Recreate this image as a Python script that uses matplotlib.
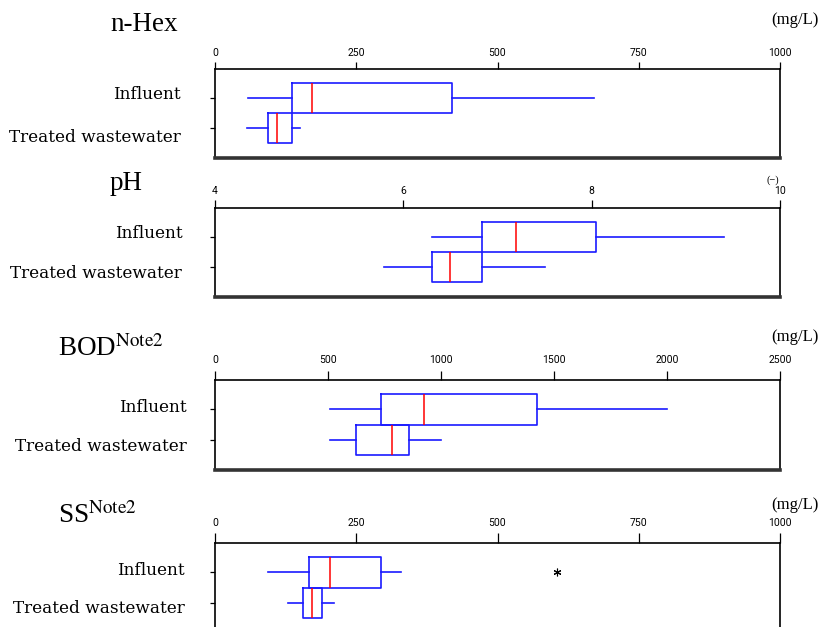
import matplotlib.pyplot as plt
from matplotlib.transforms import ScaledTranslation

plt.rcParams['font.family'] = ['Liberation Serif', 'DejaVu Serif']
plt.rcParams['mathtext.fontset'] = 'stix'

groups = ['Influent', 'Treated wastewater']

# whisker low, Q1, median, Q3, whisker high
hex_inf = [58, 137, 171, 419, 670]
hex_trt = [56, 93, 109, 137, 151]
ph_inf = [6.30, 6.84, 7.20, 8.05, 9.41]
ph_trt = [5.80, 6.30, 6.50, 6.84, 7.50]
bod_inf = [508, 733, 924, 1424, 2001]
bod_trt = [508, 626, 781, 860, 1001]
ss_inf = [94, 166, 203, 293, 330]
ss_trt = [129, 155, 171, 190, 210]
ss_inf_out = [606]

titles = ['n-Hex', 'pH', r'BOD$^{\rm Note2}$', r'SS$^{\rm Note2}$']
units = ['(mg/L)', '(−)', '(mg/L)', '(mg/L)']
xlims = [(0, 1000), (4, 10), (0, 2500), (0, 1000)]
xticks = [[0, 250, 500, 750, 1000], [4, 6, 8, 10],
          [0, 500, 1000, 1500, 2000, 2500], [0, 250, 500, 750, 1000]]
stats = [(hex_inf, hex_trt, []), (ph_inf, ph_trt, []),
         (bod_inf, bod_trt, []), (ss_inf, ss_trt, ss_inf_out)]

W, H = 820, 627
# layout, pixels unless noted
tops = [69, 208, 380, 543]
heights = [89, 89, 90, 90]
xtick_len = [5, 5.8, 6.5, 7.2]        # points
xtick_pad = [3.0, 2.5, 4.5, 3.5]      # points
ylab_pad = [21, 20, 16.5, 18]         # points
ylab_shift = [(6, -7), (6, -4), (4, -5), (4, -4)]
title_x = [110, 110, 58, 58]
title_base = [31, 190, 356, 523]
unit_x = [819, 779, 819, 819]
unit_y = [20, 180, 337, 505]
unit_size = [12, 7.5, 12, 12]


def make_stats(vals, fliers):
    lo, q1, med, q3, hi = vals
    return {'whislo': lo, 'q1': q1, 'med': med, 'q3': q3, 'whishi': hi,
            'fliers': fliers}


fig = plt.figure(figsize=(W / 100, H / 100), dpi=100)
blue = '#1a1aff'

for i in range(4):
    left, width = 215, 565
    ax = fig.add_axes([left / W, 1 - (tops[i] + heights[i]) / H,
                       width / W, heights[i] / H])
    inf, trt, out = stats[i]
    bx = [make_stats(inf, out), make_stats(trt, [])]
    ax.bxp(bx, positions=[0, 1], widths=1.0, orientation='horizontal',
           showcaps=False,
           boxprops=dict(color=blue, lw=1.2),
           whiskerprops=dict(color=blue, lw=1.2),
           medianprops=dict(color='red', lw=1.1),
           flierprops=dict(marker=(6, 2, 0), markersize=5.5,
                           markeredgecolor='black', markeredgewidth=0.8,
                           linestyle='none'))
    ax.set_xlim(*xlims[i])
    ax.set_ylim(2.0, -0.97)
    ax.set_xticks(xticks[i])
    ax.set_xticklabels([str(t) for t in xticks[i]],
                       family=['Roboto', 'DejaVu Sans'], fontsize=7.5)
    ax.xaxis.tick_top()
    ax.tick_params(axis='x', direction='out', length=xtick_len[i],
                   width=0.9, pad=xtick_pad[i])
    ax.set_yticks([0, 1])
    ax.set_yticklabels(groups, fontsize=12.2,
                       family=['DejaVu Serif', 'Liberation Serif'])
    ax.tick_params(axis='y', direction='out', length=3.6, width=0.9,
                   pad=ylab_pad[i])
    for lab, dy in zip(ax.get_yticklabels(), ylab_shift[i]):
        lab.set_transform(lab.get_transform() +
                          ScaledTranslation(0, dy * 0.72 / 72,
                                            fig.dpi_scale_trans))
    for s in ['top', 'left', 'right']:
        ax.spines[s].set_linewidth(1.2)
    ax.spines['bottom'].set_linewidth(2.6)
    ax.spines['bottom'].set_color('#333333')

    fig.text(title_x[i] / W, 1 - title_base[i] / H, titles[i],
             fontsize=19.5, va='baseline', ha='left')
    fig.text(unit_x[i] / W, 1 - unit_y[i] / H, units[i],
             fontsize=unit_size[i], va='center', ha='right')

fig.savefig('out.png', dpi=100)
